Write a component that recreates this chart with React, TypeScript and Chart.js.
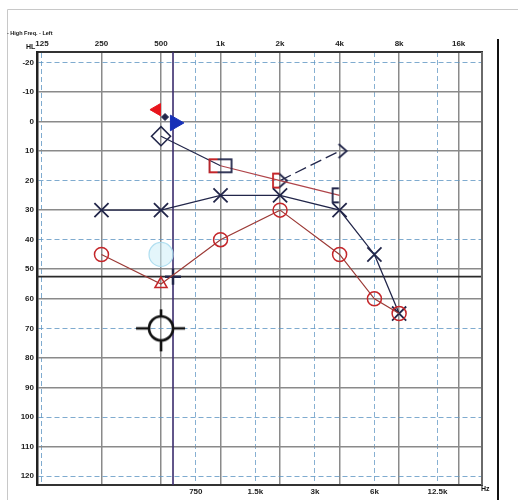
import React, { useEffect, useRef } from 'react';
import { Chart, registerables } from 'chart.js';

Chart.register(...registerables);

// ---- axes / ticks ----
const TOP_FREQS = [125, 250, 500, 1000, 2000, 4000, 8000, 16000];
const TOP_LABELS = ['125', '250', '500', '1k', '2k', '4k', '8k', '16k'];
const MID_FREQS = [750, 1500, 3000, 6000, 12500];
const MID_LABELS = ['750', '1.5k', '3k', '6k', '12.5k'];
const DB_TICKS = [-20, -10, 0, 10, 20, 30, 40, 50, 60, 70, 80, 90, 100, 110, 120];
const DB_SOLID = [-10, 0, 10, 30, 50, 60, 80, 90, 110];
const FREQ_MIN = 118;
const FREQ_MAX = 21000;
const DB_MIN = -23.5;
const DB_MAX = 123;

// ---- series ----
const RIGHT_AC_FREQ = [250, 500, 1000, 2000, 4000, 6000, 8000];
const RIGHT_AC_DB = [45, 55, 40, 30, 45, 60, 65];
const RIGHT_AC_SYMBOL = ['circle', 'triangle', 'circle', 'circle', 'circle', 'circle', 'circle'];

const LEFT_AC_FREQ = [250, 500, 1000, 2000, 4000, 6000, 8000];
const LEFT_AC_DB = [30, 30, 25, 25, 30, 45, 65];

const MASKED_BC_FREQ = [500, 1000, 2000, 4000];
const MASKED_BC_DB = [5, 15, 20, 25];

const LEFT_BC_FREQ = [2000, 4000];
const LEFT_BC_DB = [20, 10];

const FLAG_FREQ = [477, 588, 524];
const FLAG_DB = [-4, 0.5, -1.5];

const SF_FREQ = [500];
const SF_DB = [45];

const TARGET_FREQ = [500];
const TARGET_DB = [70];

const CURSOR_FREQ = 575;
const CURSOR_DB = 52.5;

const RED = '#c4262a';
const RED_LINE = '#9c3a36';
const NAVY = '#22264a';
const FONT = '"Liberation Sans", Arial, sans-serif';

function makeImg(w: number, h: number, draw: (g: CanvasRenderingContext2D) => void) {
  const c = document.createElement('canvas');
  c.width = w;
  c.height = h;
  const g = c.getContext('2d')!;
  draw(g);
  return c;
}

const pts = (xs: number[], ys: number[]) => xs.map((x, i) => ({ x, y: ys[i] }));

export default function App() {
  const ref = useRef<HTMLCanvasElement>(null);

  useEffect(() => {
    if (!ref.current) return;

    const bracket = (color: string) =>
      makeImg(22, 18, (g) => {
        g.strokeStyle = color;
        g.lineWidth = 1.8;
        g.beginPath();
        g.moveTo(10.5, 2);
        g.lineTo(4, 2);
        g.lineTo(4, 16);
        g.lineTo(10.5, 16);
        g.stroke();
      });
    const gt = makeImg(18, 18, (g) => {
      g.strokeStyle = NAVY;
      g.lineWidth = 1.8;
      g.beginPath();
      g.moveTo(8, 2);
      g.lineTo(16, 9);
      g.lineTo(8, 16);
      g.stroke();
    });
    const square = makeImg(28, 19, (g) => {
      g.lineWidth = 1.8;
      g.strokeStyle = NAVY;
      g.strokeRect(3, 3, 22, 13);
      g.strokeStyle = RED;
      g.beginPath();
      g.moveTo(11, 3);
      g.lineTo(3, 3);
      g.lineTo(3, 16);
      g.lineTo(11, 16);
      g.stroke();
    });
    const target = makeImg(56, 56, (g) => {
      const c = 28;
      g.strokeStyle = '#111';
      g.lineWidth = 2.6;
      g.beginPath();
      g.arc(c, c, 12, 0, Math.PI * 2);
      g.stroke();
      g.beginPath();
      g.moveTo(c - 25, c);
      g.lineTo(c - 12, c);
      g.moveTo(c + 12, c);
      g.lineTo(c + 24, c);
      g.moveTo(c, c - 19);
      g.lineTo(c, c - 11);
      g.moveTo(c, c + 11);
      g.lineTo(c, c + 23);
      g.stroke();
    });

    const decor = {
      id: 'decor',
      afterDraw(chart: any) {
        const { ctx, chartArea: a } = chart;
        ctx.save();
        ctx.strokeStyle = '#c8c8c8';
        ctx.lineWidth = 1;
        ctx.beginPath();
        ctx.moveTo(7.5, 500);
        ctx.lineTo(7.5, 9.5);
        ctx.lineTo(518, 9.5);
        ctx.stroke();

        ctx.strokeStyle = '#6a6a6a';
        ctx.lineWidth = 2;
        ctx.beginPath();
        ctx.moveTo(a.right, a.top);
        ctx.lineTo(a.right, a.bottom);
        ctx.stroke();

        ctx.strokeStyle = '#111';
        ctx.lineWidth = 2;
        ctx.beginPath();
        ctx.moveTo(498, 39);
        ctx.lineTo(498, 500);
        ctx.stroke();

        ctx.fillStyle = '#111';
        ctx.textBaseline = 'middle';
        ctx.textAlign = 'left';
        ctx.font = `bold 5.5px ${FONT}`;
        ctx.fillText('- High Freq. - Left', 7, 33);
        ctx.font = `bold 7px ${FONT}`;
        ctx.fillText('HL', 26, 47);
        ctx.fillText('Hz', 481, 489);
        ctx.restore();
      },
    };

    const tickFont = { family: FONT, size: 8, weight: 'bold' as const };
    const isSolidDb = (c: any) => c.tick && DB_SOLID.includes(c.tick.value);

    const chart = new Chart(ref.current, {
      type: 'line',
      data: {
        datasets: [
          {
            label: 'flags',
            data: pts(FLAG_FREQ, FLAG_DB),
            showLine: false,
            pointStyle: ['triangle', 'triangle', 'rectRot'],
            rotation: [-90, 90, 0],
            pointRadius: [7, 9, 3.5],
            pointBackgroundColor: ['#e8141c', '#1630b8', NAVY],
            pointBorderColor: ['#e8141c', '#1630b8', NAVY],
            pointBorderWidth: 1,
          },
          {
            label: 'target',
            data: pts(TARGET_FREQ, TARGET_DB),
            showLine: false,
            pointStyle: target as any,
            pointRadius: 10,
          },
          {
            label: 'right AC',
            data: pts(RIGHT_AC_FREQ, RIGHT_AC_DB),
            borderColor: RED_LINE,
            borderWidth: 1.2,
            pointStyle: RIGHT_AC_SYMBOL as any,
            pointRadius: 7,
            pointBorderWidth: 1.5,
            pointBorderColor: RED,
            pointBackgroundColor: 'rgba(0,0,0,0)',
            tension: 0,
          },
          {
            label: 'left AC',
            data: pts(LEFT_AC_FREQ, LEFT_AC_DB),
            borderColor: NAVY,
            borderWidth: 1.3,
            pointStyle: 'crossRot',
            pointRadius: 10,
            pointBorderWidth: 1.8,
            pointBorderColor: NAVY,
            tension: 0,
          },
          {
            label: 'masked BC',
            data: pts(MASKED_BC_FREQ, MASKED_BC_DB),
            borderColor: RED_LINE,
            borderWidth: 1.2,
            segment: {
              borderColor: (c: any) => (c.p0DataIndex === 0 ? NAVY : '#b0454a'),
            },
            pointStyle: ['rectRot', square, bracket(RED), bracket(NAVY)] as any,
            pointRadius: 9.5,
            pointBorderWidth: 1.6,
            pointBorderColor: NAVY,
            pointBackgroundColor: 'rgba(0,0,0,0)',
            tension: 0,
          },
          {
            label: 'left BC',
            data: pts(LEFT_BC_FREQ, LEFT_BC_DB),
            borderColor: NAVY,
            borderWidth: 1.3,
            borderDash: [12, 5],
            pointStyle: gt as any,
            pointRadius: 8,
            tension: 0,
          },
          {
            label: 'sound field',
            data: pts(SF_FREQ, SF_DB),
            showLine: false,
            pointStyle: 'circle',
            pointRadius: 12,
            pointBackgroundColor: 'rgba(205,238,248,0.55)',
            pointBorderColor: 'rgba(170,220,238,0.9)',
            pointBorderWidth: 1.2,
          },
          {
            label: 'cursor plus',
            data: [{ x: CURSOR_FREQ, y: CURSOR_DB }],
            showLine: false,
            pointStyle: 'cross',
            pointRadius: 8,
            pointBorderWidth: 2.5,
            pointBorderColor: NAVY,
          },
          {
            label: 'cursor v',
            data: [
              { x: CURSOR_FREQ, y: DB_MIN },
              { x: CURSOR_FREQ, y: DB_MAX },
            ],
            borderColor: '#3b2d6e',
            borderWidth: 1.6,
            pointRadius: 0,
          },
          {
            label: 'cursor h',
            data: [
              { x: FREQ_MIN, y: CURSOR_DB },
              { x: FREQ_MAX, y: CURSOR_DB },
            ],
            borderColor: '#2a2a2a',
            borderWidth: 1.6,
            pointRadius: 0,
          },
        ] as any,
      },
      options: {
        animation: false,
        responsive: false,
        devicePixelRatio: 1,
        events: [],
        layout: { padding: { left: 0, top: 0, right: 36, bottom: 0 } },
        plugins: { legend: { display: false }, tooltip: { enabled: false } },
        scales: {
          x: {
            type: 'logarithmic',
            position: 'bottom',
            min: FREQ_MIN,
            max: FREQ_MAX,
            bounds: 'data',
            afterBuildTicks: (s: any) => {
              s.ticks = MID_FREQS.map((v) => ({ value: v }));
            },
            afterFit: (s: any) => {
              s.height = 15;
            },
            ticks: {
              callback: (_v: any, i: number) => MID_LABELS[i],
              font: tickFont,
              color: '#222',
              padding: 2,
              autoSkip: false,
              maxRotation: 0,
            },
            grid: { color: 'rgba(95,150,195,0.75)', lineWidth: 1, drawTicks: false },
            border: { display: true, color: '#333', width: 2, dash: (c: any) => (c.tick ? [5, 3] : []) },
          },
          xTop: {
            type: 'logarithmic',
            position: 'top',
            min: FREQ_MIN,
            max: FREQ_MAX,
            bounds: 'data',
            afterBuildTicks: (s: any) => {
              s.ticks = TOP_FREQS.map((v) => ({ value: v }));
            },
            afterFit: (s: any) => {
              s.height = 52;
            },
            ticks: {
              callback: (_v: any, i: number) => TOP_LABELS[i],
              font: tickFont,
              color: '#222',
              padding: 3,
              autoSkip: false,
              maxRotation: 0,
            },
            grid: {
              color: (c: any) => (c.tick && c.tick.value === 125 ? 'rgba(95,150,195,0.8)' : '#8a8a8a'),
              lineWidth: (c: any) => (c.tick && c.tick.value === 125 ? 1 : 1.5),
              drawTicks: false,
            },
            border: {
              display: true,
              color: '#333',
              width: 2,
              dash: (c: any) => (c.tick && c.tick.value === 125 ? [5, 3] : []),
            },
          },
          y: {
            type: 'linear',
            position: 'left',
            reverse: true,
            min: DB_MIN,
            max: DB_MAX,
            bounds: 'data',
            afterBuildTicks: (s: any) => {
              s.ticks = DB_TICKS.map((v) => ({ value: v }));
            },
            afterFit: (s: any) => {
              s.width = 37;
            },
            ticks: {
              callback: (v: any) => String(v),
              font: tickFont,
              color: '#222',
              padding: 3,
              autoSkip: false,
            },
            grid: {
              color: (c: any) => (isSolidDb(c) ? '#8a8a8a' : 'rgba(95,150,195,0.8)'),
              lineWidth: (c: any) => (isSolidDb(c) ? 1.5 : 1),
              drawTicks: false,
            },
            border: {
              display: true,
              color: '#222',
              width: 2.5,
              dash: (c: any) => (c.tick && !isSolidDb(c) ? [5, 3] : []),
            },
          },
        } as any,
      },
      plugins: [decor],
    });

    return () => chart.destroy();
  }, []);

  return (
    <div style={{ position: 'absolute', left: 0, top: 0, width: 518, height: 500, background: '#fff' }}>
      <canvas ref={ref} width={518} height={500} />
    </div>
  );
}
